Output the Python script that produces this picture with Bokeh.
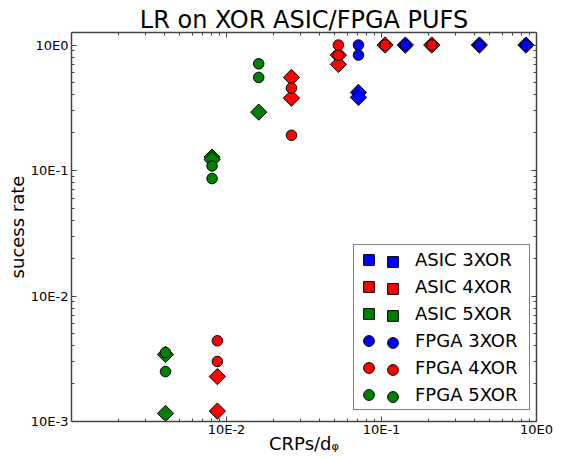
import math
from bokeh.plotting import figure
from bokeh.models import LogAxis, FixedTicker, Legend, LegendItem
from bokeh.embed import file_html
from bokeh.resources import INLINE

# ---------------- data ----------------
title_text = "LR on XOR ASIC/FPGA PUFS"
x_label = "CRPs/dᵩ"
y_label = "sucess rate"

x_tick_values = [0.01, 0.1, 1.0]
x_tick_labels = ["10E-2", "10E-1", "10E0"]
y_tick_values = [0.001, 0.01, 0.1, 1.0]
y_tick_labels = ["10E-3", "10E-2", "10E-1", "10E0"]
decades = [0.001, 0.01, 0.1, 1.0]
minor_mantissas = [2, 3, 4, 5, 6, 7, 8, 9]

series_names = ["ASIC 3XOR", "ASIC 4XOR", "ASIC 5XOR",
                "FPGA 3XOR", "FPGA 4XOR", "FPGA 5XOR"]
series_colors = ["#0000ff", "#ff0000", "#008000",
                 "#0000ff", "#ff0000", "#008000"]
series_markers = ["diamond", "diamond", "diamond",
                  "circle", "circle", "circle"]

asic3_x = [0.071, 0.071, 0.1425, 0.428, 0.855]
asic3_y = [0.419, 0.383, 1.0, 1.0, 1.0]

asic4_x = [0.00873, 0.00873, 0.02624, 0.02624, 0.0527, 0.0527, 0.1054, 0.211]
asic4_y = [0.00228, 0.00121, 0.552, 0.378, 0.832, 0.701, 1.0, 1.0]

asic5_x = [0.00404, 0.00404, 0.00807, 0.00807, 0.01614]
asic5_y = [0.00342, 0.00116, 0.128, 0.1224, 0.292]

fpga3_x = [0.071, 0.071, 0.1425, 0.428, 0.855]
fpga3_y = [1.0, 0.832, 1.0, 1.0, 1.0]

fpga4_x = [0.00873, 0.00873, 0.02624, 0.02624, 0.0527, 0.0527, 0.1054, 0.211]
fpga4_y = [0.0044, 0.00301, 0.454, 0.191, 1.0, 0.832, 1.0, 1.0]

fpga5_x = [0.00404, 0.00404, 0.00807, 0.00807, 0.01614, 0.01614]
fpga5_y = [0.00355, 0.0025, 0.1088, 0.0863, 0.709, 0.552]

series_x = [asic3_x, asic4_x, asic5_x, fpga3_x, fpga4_x, fpga5_x]
series_y = [asic3_y, asic4_y, asic5_y, fpga3_y, fpga4_y, fpga5_y]

# ---------------- figure ----------------
FONT = "DejaVu Sans"
AX_COLOR = "#444444"
W, H = 561, 457

p = figure(width=W, height=H, x_axis_type="log", y_axis_type="log",
           x_range=(1e-3, 1.0), y_range=(1e-3, 1.259),
           output_backend="svg", toolbar_location=None,
           min_border_left=71, min_border_right=25,
           min_border_top=32, min_border_bottom=36)
p.outline_line_color = None
p.xgrid.grid_line_color = None
p.ygrid.grid_line_color = None
p.background_fill_color = "white"
p.border_fill_color = "white"

minor_ticks = [m * d for d in decades for m in minor_mantissas]


def style_axis(ax, ticks, labels):
    ax.ticker = FixedTicker(ticks=ticks, minor_ticks=minor_ticks)
    ax.axis_line_color = AX_COLOR
    ax.axis_line_width = 1.5
    ax.major_tick_line_color = AX_COLOR
    ax.minor_tick_line_color = AX_COLOR
    ax.major_tick_line_width = 1
    ax.minor_tick_line_width = 1
    ax.major_tick_in = 5
    ax.major_tick_out = 0
    ax.minor_tick_in = 3
    ax.minor_tick_out = 0
    ax.axis_label_text_font = FONT
    ax.axis_label_text_font_style = "normal"
    ax.axis_label_text_color = "black"
    if labels is not None:
        ax.major_label_overrides = dict(zip(ticks, labels))
        ax.major_label_text_font = FONT
        ax.major_label_text_font_size = "13px"
        ax.major_label_text_color = "black"
    else:
        ax.major_label_overrides = {t: "" for t in ticks}
        ax.major_label_text_font_size = "0px"
        ax.major_label_standoff = 0


# bottom axis
xb = p.xaxis[0]
style_axis(xb, x_tick_values, x_tick_labels)
xb.major_label_standoff = 0
xb.axis_label = x_label
xb.axis_label_text_font_size = "18px"
xb.axis_label_standoff = -7

# left axis
yl = p.yaxis[0]
style_axis(yl, y_tick_values, y_tick_labels)
yl.major_label_standoff = 3
yl.axis_label = y_label
yl.axis_label_text_font_size = "18px"
yl.axis_label_standoff = 0

# top axis carries the chart title
top_axis = LogAxis()
style_axis(top_axis, x_tick_values, None)
top_axis.axis_label = title_text
top_axis.axis_label_text_font_size = "24px"
top_axis.axis_label_standoff = -1
p.add_layout(top_axis, "above")

right_axis = LogAxis()
style_axis(right_axis, y_tick_values, None)
p.add_layout(right_axis, "right")

# ---------------- glyphs ----------------
renderers = []
for xs, ys, col, mk in zip(series_x, series_y, series_colors, series_markers):
    if mk == "diamond":
        r = p.scatter(xs, ys, marker="square", size=11.5, angle=math.pi / 4,
                      fill_color=col, line_color="black", line_width=1)
    else:
        r = p.scatter(xs, ys, marker="circle", size=10.5,
                      fill_color=col, line_color="black", line_width=1)
    renderers.append(r)

# ---------------- legend (two markers per entry) ----------------
legend_main = Legend(
    items=[LegendItem(label=n, renderers=[r]) for n, r in zip(series_names, renderers)],
    location=(282, 11), padding=1, spacing=0,
    glyph_width=27, glyph_height=27, label_height=27,
    label_standoff=33, label_width=113,
    label_text_font=FONT, label_text_font_size="18px", label_text_color="black",
    border_line_color="black", border_line_width=1,
    background_fill_color="white", background_fill_alpha=1.0)
p.add_layout(legend_main)

legend_second = Legend(
    items=[LegendItem(label=" ", renderers=[r]) for r in renderers],
    location=(308, 11), padding=1, spacing=0,
    glyph_width=27, glyph_height=27, label_height=27,
    label_standoff=0, label_width=0,
    label_text_font=FONT, label_text_font_size="18px",
    border_line_color=None, background_fill_alpha=0.0)
p.add_layout(legend_second)

open("out.html", "w").write(file_html(p, INLINE))
